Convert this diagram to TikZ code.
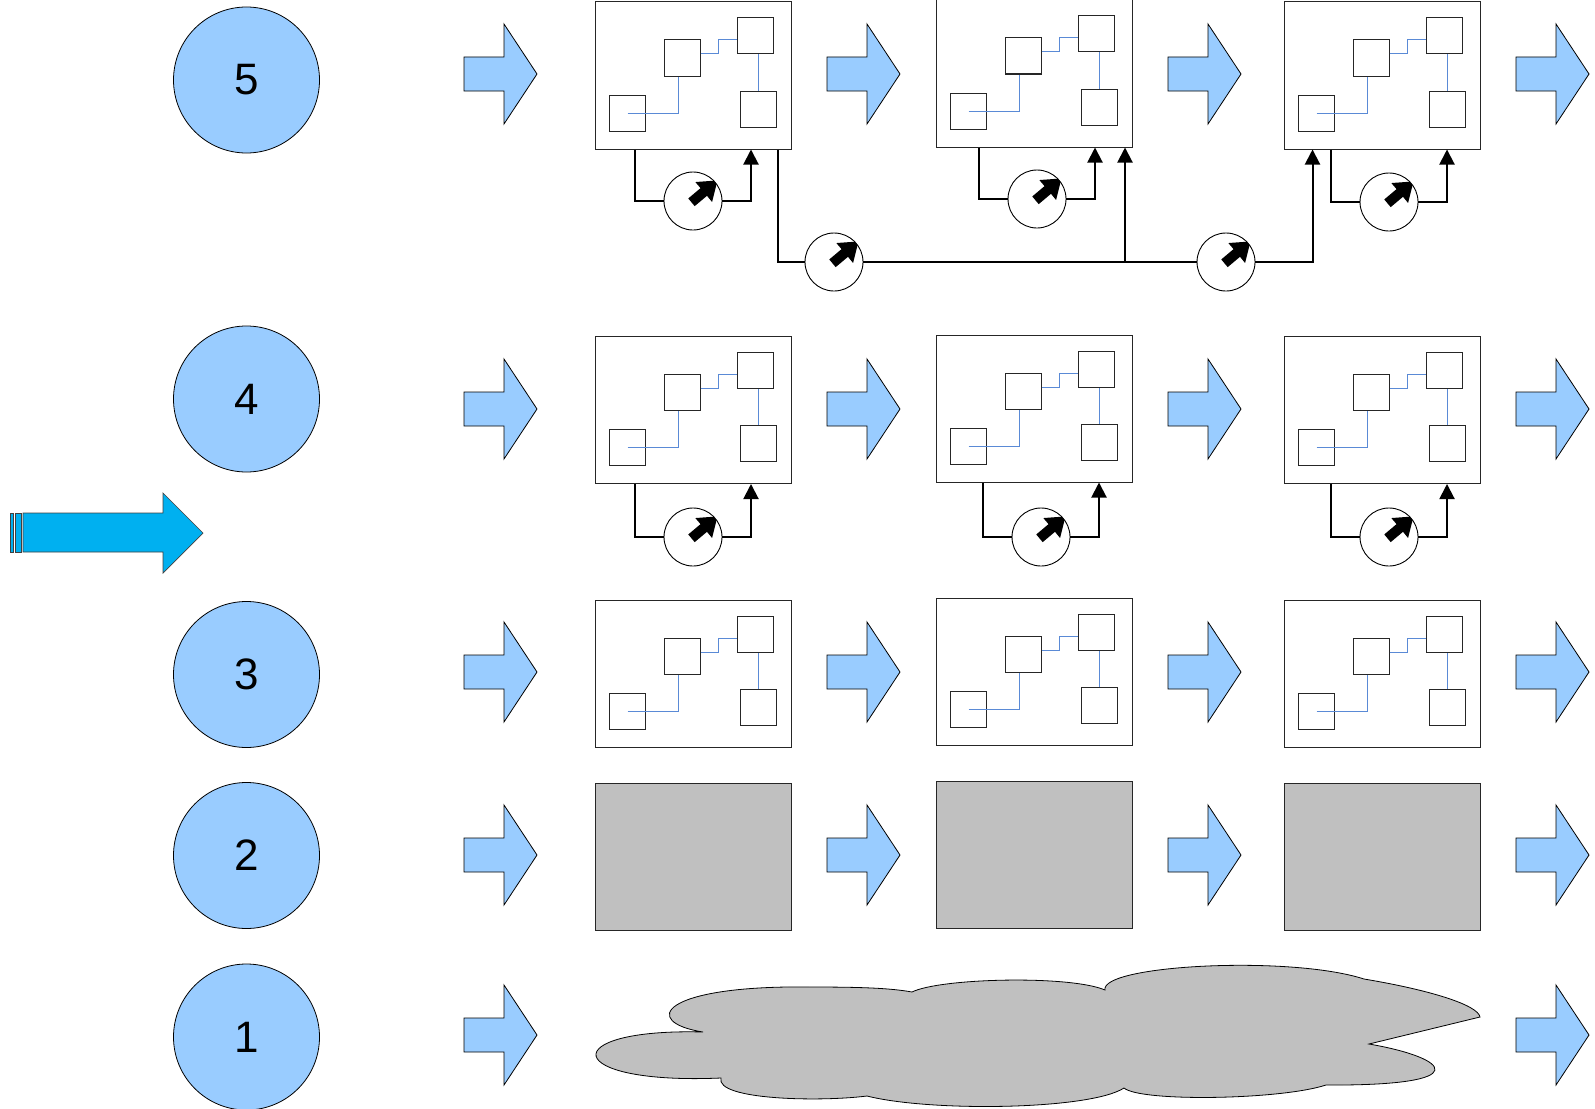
\documentclass[tikz,border=0pt]{standalone}
\usepackage{fontspec}
\setmainfont{Liberation Sans}
\usetikzlibrary{arrows.meta,calc}
\definecolor{lblue}{HTML}{99CCFF}
\definecolor{cyanb}{HTML}{00B0F0}
\definecolor{wire}{HTML}{5A8AD6}
\definecolor{grayf}{HTML}{C0C0C0}
\tikzset{
  numcirc/.style={circle,draw=black,line width=0.8pt,fill=lblue,minimum size=146pt,inner sep=0pt,font=\fontsize{44}{50}\selectfont},
  procbox/.style={draw=black!85,line width=1pt,fill=white,minimum width=196pt,minimum height=147pt,inner sep=0pt},
  graybox/.style={procbox,fill=grayf},
  sq/.style={draw=black!85,line width=1pt,fill=white,minimum size=36pt,inner sep=0pt},
  wireline/.style={draw=wire,line width=1pt},
  conn/.style={draw=black,line width=2pt},
  connarrow/.style={conn,-{Triangle[width=15pt,length=15pt]}},
  gauge/.style={circle,draw=black,line width=0.9pt,fill=white,minimum size=58pt,inner sep=0pt,
     path picture={
        \coordinate (gc) at (path picture bounding box.center);
        \fill[black] ($(gc)+(288.2:5.4pt)$) -- ($(gc)+(20.35:14.9pt)$) -- ($(gc)+(357.1:19.1pt)$)
          -- ($(gc)+(40:32pt)$) -- ($(gc)+(82.9:19.1pt)$) -- ($(gc)+(59.65:14.9pt)$)
          -- ($(gc)+(151.8:5.4pt)$) -- cycle;
        }},
  flowarrow/.style={fill=lblue,draw=black,line width=0.8pt,line join=miter},
  flowarr/.pic={\path[flowarrow] (0,-17) -- (40,-17) -- (40,-50) -- (73,0) -- (40,50) -- (40,17) -- (0,17) -- cycle;}
}
\newcommand\procunit[3]{%
  \node[procbox] (#1) at (#2,#3) {};
  \node[sq] (#1a) at ($(#1.center)+(-11,-17.5)$) {};
  \node[sq] (#1b) at ($(#1.center)+(62,-39.5)$) {};
  \node[sq] (#1c) at ($(#1.center)+(-65.5,37.5)$) {};
  \node[sq] (#1d) at ($(#1.center)+(65,33.5)$) {};
  \draw[wireline] (#1c.center) -| ([xshift=-4pt]#1a.south);
  \draw[wireline] ([yshift=4pt]#1a.east) -| ($([yshift=4pt]#1a.east)!.5!([yshift=-4pt]#1b.west)$) |- ([yshift=-4pt]#1b.west);
  \draw[wireline] (#1d.north) -- (#1d.north |- #1b.south);
}
\begin{document}
\begin{tikzpicture}[x=1pt,y=-1pt]
\useasboundingbox (0,0) rectangle (1595,1108);

% numbered circles
\node[numcirc] (n5) at (246.5,80) {5};
\node[numcirc] (n4) at (246.5,399) {4};
\node[numcirc] (n3) at (246.5,674.5) {3};
\node[numcirc] (n2) at (246.5,855.5) {2};
\node[numcirc] (n1) at (246.5,1037) {1};

% big left arrow
\path[fill=cyanb,draw=black!75,line width=0.7pt] (10.7,513) rectangle (13.3,552);
\path[fill=cyanb,draw=black!75,line width=0.7pt] (15.7,513) rectangle (21.3,552);
\path[fill=cyanb,draw=black!75,line width=0.7pt,line join=miter] (23,513) -- (163,513) -- (163,493) -- (203,533) -- (163,573) -- (163,552) -- (23,552) -- cycle;

% flow arrows
\foreach \yy/\rr in {74/5,409/4,672/3,855/2}{
  \pic (fa\rr a) at (464,\yy) {flowarr};
  \pic (fa\rr b) at (827,\yy) {flowarr};
  \pic (fa\rr c) at (1168,\yy) {flowarr};
  \pic (fa\rr d) at (1516,\yy) {flowarr};
}
\pic (fa1a) at (464,1035) {flowarr};
\pic (fa1d) at (1516,1035) {flowarr};

% process boxes
\procunit{b51}{693}{75.5}
\procunit{b52}{1034}{73.5}
\procunit{b53}{1382}{75.5}
\procunit{b41}{693}{410}
\procunit{b42}{1034}{408.5}
\procunit{b43}{1382}{410}
\procunit{b31}{693}{674}
\procunit{b32}{1034}{672}
\procunit{b33}{1382}{674}

% gray boxes
\node[graybox] (b21) at (693,856.5) {};
\node[graybox] (b22) at (1034,855) {};
\node[graybox] (b23) at (1382,856.5) {};

% local gauge loops
\foreach \g/\b/\gx/\gy in {g51/b51/693/201, g52/b52/1037/199, g53/b53/1389/202,
                           g41/b41/693/537, g42/b42/1041/537, g43/b43/1389/537}{
  \node[gauge] (\g) at (\gx,\gy) {};
  \coordinate (\g l) at ([xshift=-58pt]\g.center);
  \coordinate (\g r) at ([xshift=58pt]\g.center);
  \draw[conn] (\g l |- \b.south) |- (\g.west);
  \draw[connarrow] (\g.east) -| (\g r |- \b.south);
}

% long connector
\node[gauge] (gl1) at (834,262) {};
\node[gauge] (gl2) at (1226,262) {};
\coordinate (s1) at ([xshift=-14pt]b51.south east);
\coordinate (br) at (1125,262);
\coordinate (t3) at ([xshift=29pt]b53.south west);
\draw[conn] (s1) |- (gl1.west);
\draw[conn] (gl1.east) -- (gl2.west);
\draw[connarrow] (br) -- (br |- b52.south);
\draw[connarrow] (gl2.east) -| (t3);

% cloud
\path[draw=black,line width=0.8pt,fill=grayf]
  (721,1078) .. controls (560,1085) and (555,1028) .. (703,1032)
  .. controls (640,1022) and (660,985) .. (810,987)
  .. controls (860,987) and (890,988) .. (912,992)
  .. controls (940,978) and (1070,975) .. (1105,990)
  .. controls (1100,965) and (1290,955) .. (1364,979)
  .. controls (1430,990) and (1478,1005) .. (1480,1017)
  -- (1369,1044)
  .. controls (1450,1058) and (1478,1086) .. (1326,1085)
  .. controls (1280,1100) and (1140,1102) .. (1124,1088)
  .. controls (1090,1110) and (930,1112) .. (867,1096)
  .. controls (820,1102) and (715,1100) .. (721,1078) -- cycle;
\end{tikzpicture}
\end{document}
